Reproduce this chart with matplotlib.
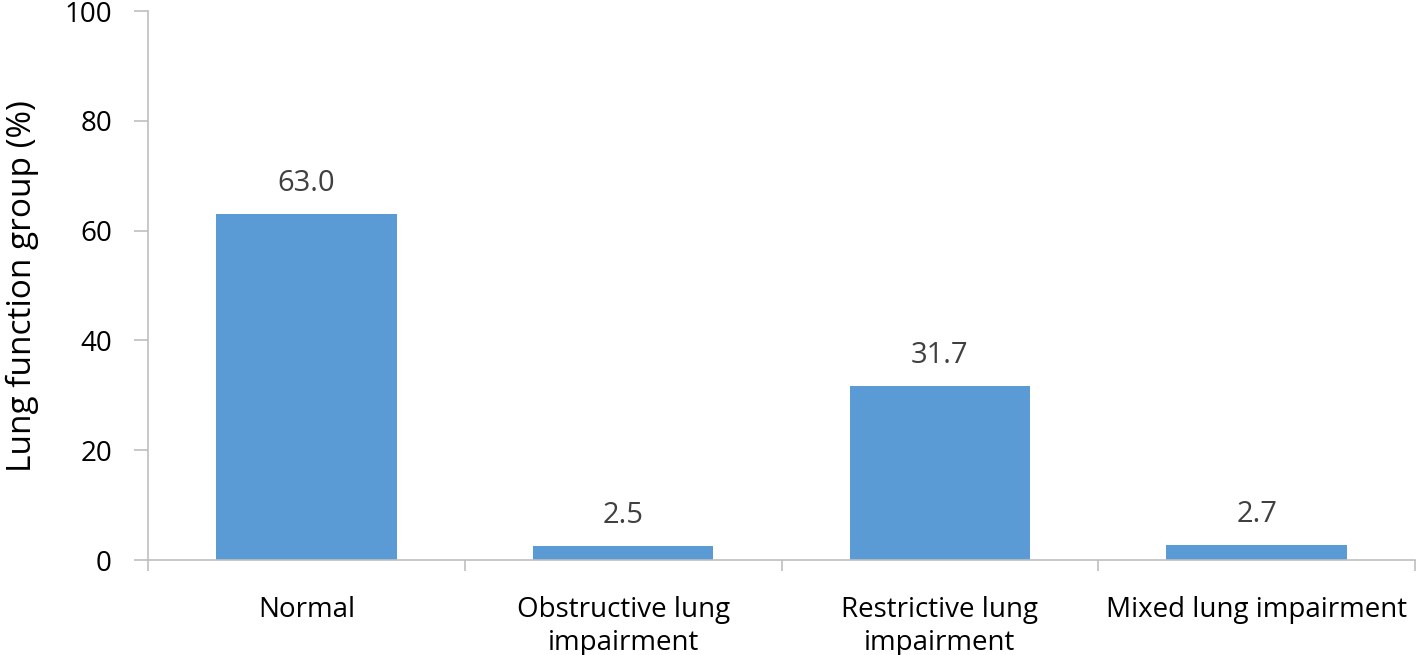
import numpy as np
import matplotlib.pyplot as plt

plt.rcParams['font.family'] = ['Open Sans', 'DejaVu Sans']

categories = ["Normal", "Obstructive lung\nimpairment", "Restrictive lung\nimpairment", "Mixed lung impairment"]
values = [63.0, 2.5, 31.7, 2.7]
yticks = [0, 20, 40, 60, 80, 100]

fig = plt.figure(figsize=(14.18, 6.55), dpi=100)
ax = fig.add_axes([0.1044, 0.145, 0.8936, 0.838])

x = np.arange(len(categories))
ax.bar(x, values, width=0.57, color="#5B9BD5")
for xi, v in zip(x, values):
    ax.text(xi, v + 3.0, f"{v:.1f}", ha="center", va="bottom", fontsize=21, color="#404040")

ax.set_xlim(-0.5, len(categories) - 0.5)
ax.set_ylim(0, 100)
ax.set_yticks(yticks)
ax.set_yticklabels([str(t) for t in yticks], fontsize=20)
ax.set_xticks(x)
ax.set_xticklabels(categories, fontsize=20, linespacing=1.25)
ax.set_xticks(np.arange(len(categories) + 1) - 0.5, minor=True)
ax.tick_params(axis="x", which="major", length=0, pad=26)
ax.tick_params(axis="x", which="minor", length=8, color="#BFBFBF", width=1.2)
ax.tick_params(axis="y", length=10, color="#BFBFBF", width=1.2, pad=16)
ax.set_ylabel("Lung function group (%)", fontsize=24, labelpad=18)

for s in ["top", "right"]:
    ax.spines[s].set_visible(False)
for s in ["left", "bottom"]:
    ax.spines[s].set_color("#BFBFBF")
    ax.spines[s].set_linewidth(1.2)

fig.savefig("out.png", dpi=100)
